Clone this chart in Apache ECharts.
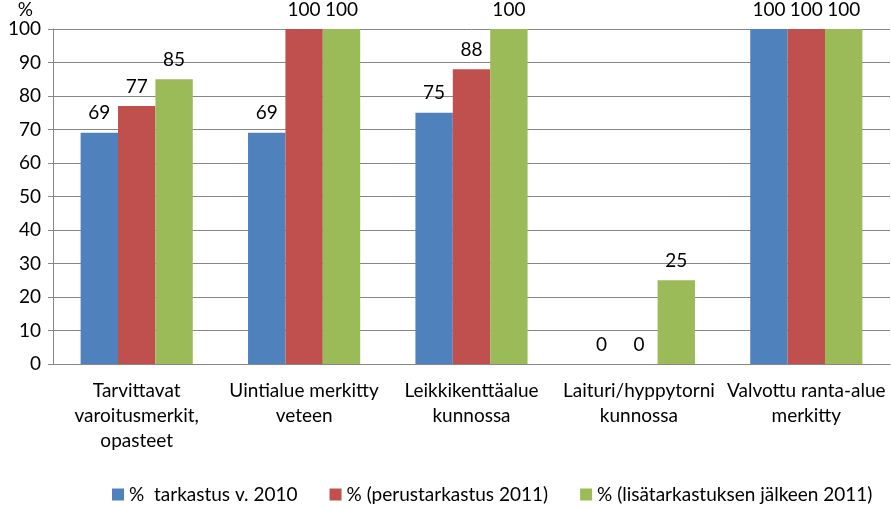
<!DOCTYPE html>
<html>
<head>
<meta charset="utf-8">
<script src="https://cdn.jsdelivr.net/npm/echarts@6/dist/echarts.min.js"></script>
<style>
  html, body { margin: 0; padding: 0; background: #fff; }
  #chart { width: 891px; height: 509px; }
</style>
</head>
<body>
<div id="chart"></div>
<script>
(function() {
  var categories = [
    "Tarvittavat\nvaroitusmerkit,\nopasteet",
    "Uintialue merkitty\nveteen",
    "Leikkikenttäalue\nkunnossa",
    "Laituri/hyppytorni\nkunnossa",
    "Valvottu ranta-alue\nmerkitty"
  ];
  var seriesNames = [
    "%  tarkastus v. 2010",
    "% (perustarkastus 2011)",
    "% (lisätarkastuksen jälkeen 2011)"
  ];
  var values2010 = [69, 69, 75, 0, 100];
  var valuesPerus2011 = [77, 100, 88, 0, 100];
  var valuesLisa2011 = [85, 100, 100, 25, 100];
  var colors = ["#4F81BD", "#C0504D", "#9BBB59"];

  var font = "Lato, 'Open Sans', sans-serif";
  var myChart = echarts.init(document.getElementById("chart"));

  function bar(name, data, color) {
    return {
      name: name,
      type: "bar",
      data: data,
      barGap: "0%",
      barCategoryGap: "33%",
      itemStyle: { color: color },
      label: {
        show: true,
        position: "top",
        distance: 10,
        color: "#000",
        fontFamily: font,
        fontSize: 19
      }
    };
  }

  var option = {
    animation: false,
    textStyle: { fontFamily: font },
    grid: { left: 53, right: 1, top: 29, bottom: 145, containLabel: false },
    legend: {
      bottom: 0,
      left: 107,
      itemWidth: 12,
      itemHeight: 12,
      itemGap: 32,
      icon: "rect",
      textStyle: { color: "#000", fontFamily: font, fontSize: 19 },
      data: seriesNames
    },
    xAxis: {
      type: "category",
      data: categories,
      axisLine: { lineStyle: { color: "#868686" } },
      axisTick: { length: 6, lineStyle: { color: "#868686" } },
      axisLabel: {
        interval: 0,
        margin: 14,
        color: "#000",
        fontFamily: font,
        fontSize: 19,
        lineHeight: 25
      }
    },
    yAxis: {
      type: "value",
      min: 0,
      max: 100,
      interval: 10,
      name: "%",
      nameLocation: "end",
      nameGap: 9,
      nameTextStyle: { color: "#000", fontFamily: font, fontSize: 19, align: "right", padding: [0, 20, 0, 0] },
      axisLine: { show: true, lineStyle: { color: "#868686" } },
      axisTick: { show: true, length: 5, lineStyle: { color: "#868686" } },
      splitLine: { lineStyle: { color: "#868686" } },
      axisLabel: { color: "#000", fontFamily: font, fontSize: 19, margin: 12 }
    },
    series: [
      bar(seriesNames[0], values2010, colors[0]),
      bar(seriesNames[1], valuesPerus2011, colors[1]),
      bar(seriesNames[2], valuesLisa2011, colors[2])
    ]
  };
  myChart.setOption(option);
})();
</script>
</body>
</html>
